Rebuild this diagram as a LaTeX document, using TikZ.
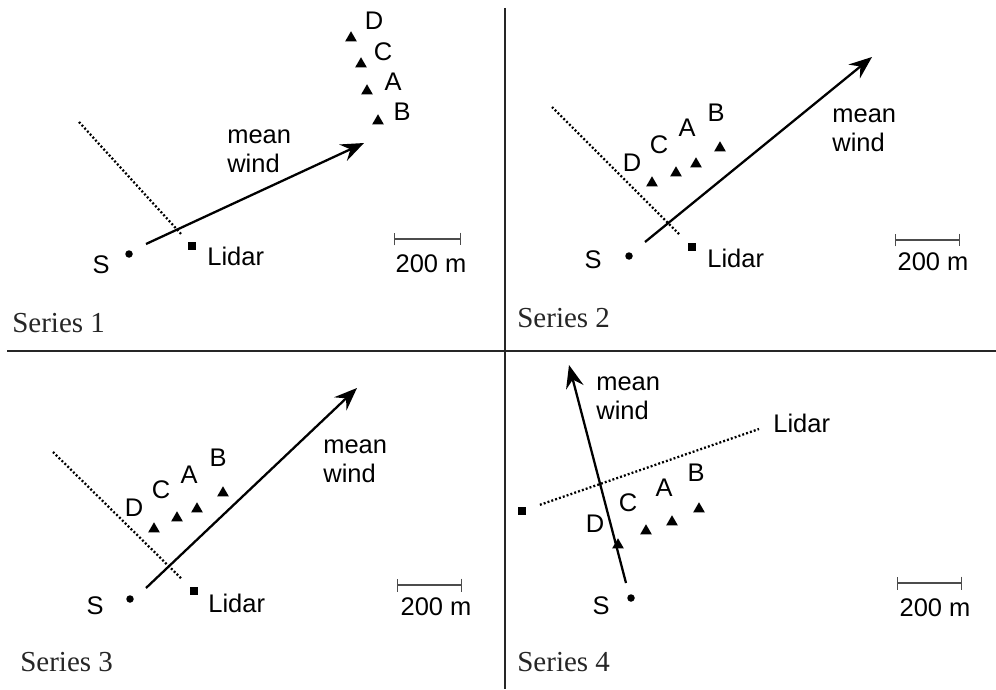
\documentclass[tikz,border=0pt]{standalone}
\usepackage{fontspec}
\setmainfont{Liberation Serif}
\newfontfamily\labelfont{Liberation Sans}
\usetikzlibrary{positioning,arrows.meta,shapes.geometric}

\begin{document}
\begin{tikzpicture}[
  x=0.02cm, y=-0.02cm,
  font=\labelfont\fontsize{14.5}{16.5}\selectfont,
  lbl/.style     = {inner sep=0pt},
  wlbl/.style    = {inner sep=0pt, anchor=west, align=left},
  tri/.style     = {regular polygon, regular polygon sides=3, fill,
                    inner sep=0pt, minimum size=0.27cm},
  srcpt/.style   = {circle, fill, inner sep=0pt, minimum size=0.15cm},
  lidar/.style   = {rectangle, fill, inner sep=0pt, minimum size=0.17cm},
  wind/.style    = {line width=1.3pt,
                    -{Stealth[length=4.6mm,width=3.6mm,inset=1.6mm]}},
  beam/.style    = {line width=1.3pt, dash pattern=on 1.1pt off 1.2pt},
  bar/.style     = {draw=black!70, line width=0.7pt,
                    {Bar[width=2.6mm]}-{Bar[width=2.6mm]}},
  series/.style  = {inner sep=0pt, anchor=west, text=black!85,
                    font=\rmfamily\fontsize{16.5}{19}\selectfont},
  divider/.style = {line width=1.1pt, black!85}
]
\useasboundingbox (0,0) rectangle (996,689);

% Panel frame
\draw[divider] (505,8) -- (505,689);
\draw[divider] (7,351) -- (996,351);

% Series 1
\node[srcpt] (s1)  at (129,254) {};
\node[lbl]   (s1l) at (101,265) {S};
\node[lidar] (li1) at (192,246) {};
\node[wlbl]  (li1l) at (207,256) {Lidar};
\node[tri] (d1) at (351,38) {};
\node[tri] (c1) at (361,64) {};
\node[tri] (a1) at (367,91) {};
\node[tri] (b1) at (378,121) {};
\node[lbl] (d1l) at (374,21) {D};
\node[lbl] (c1l) at (383,52) {C};
\node[lbl] (a1l) at (393,82) {A};
\node[lbl] (b1l) at (402,112) {B};
\node[wlbl] (mw1) at (227,151) {mean\\wind};
\coordinate (w1a) at (146,244);
\coordinate (w1b) at (364,143);
\draw[wind] (w1a) -- (w1b);
\coordinate (bm1) at (79,122);
\draw[beam, shorten >=5pt] (bm1) -- (li1);
\coordinate (sb1a) at (394,239);
\coordinate (sb1b) at (461,239);
\draw[bar] (sb1a) -- (sb1b);
\node[lbl] (sb1l) at (431,264) {200 m};
\node[series] (ser1) at (12,323) {Series 1};

% Series 2
\node[srcpt] (s2)  at (629,256) {};
\node[lbl]   (s2l) at (593,260) {S};
\node[lidar] (li2) at (692,247) {};
\node[wlbl]  (li2l) at (707,258) {Lidar};
\node[tri] (d2) at (652,183) {};
\node[tri] (c2) at (676,173) {};
\node[tri] (a2) at (696,164) {};
\node[tri] (b2) at (720,148) {};
\node[lbl] (d2l) at (632,163) {D};
\node[lbl] (c2l) at (659,145) {C};
\node[lbl] (a2l) at (687,128) {A};
\node[lbl] (b2l) at (716,113) {B};
\node[wlbl] (mw2) at (832,130) {mean\\wind};
\coordinate (w2a) at (645,242);
\coordinate (w2b) at (872,57);
\draw[wind] (w2a) -- (w2b);
\coordinate (bm2) at (552,107);
\draw[beam, shorten >=6pt] (bm2) -- (li2);
\coordinate (sb2a) at (895,240);
\coordinate (sb2b) at (960,240);
\draw[bar] (sb2a) -- (sb2b);
\node[lbl] (sb2l) at (933,262) {200 m};
\node[series] (ser2) at (517,318) {Series 2};

% Series 3
\node[srcpt] (s3)  at (130,599) {};
\node[lbl]   (s3l) at (95,606) {S};
\node[lidar] (li3) at (194,591) {};
\node[wlbl]  (li3l) at (208,603) {Lidar};
\node[tri] (d3) at (154,529) {};
\node[tri] (c3) at (177,518) {};
\node[tri] (a3) at (197,509) {};
\node[tri] (b3) at (223,493) {};
\node[lbl] (d3l) at (134,508) {D};
\node[lbl] (c3l) at (161,490) {C};
\node[lbl] (a3l) at (189,475) {A};
\node[lbl] (b3l) at (218,458) {B};
\node[wlbl] (mw3) at (323,461) {mean\\wind};
\coordinate (w3a) at (146,588);
\coordinate (w3b) at (357,388);
\draw[wind] (w3a) -- (w3b);
\coordinate (bm3) at (53,452);
\draw[beam, shorten >=6pt] (bm3) -- (li3);
\coordinate (sb3a) at (397,585);
\coordinate (sb3b) at (462,585);
\draw[bar] (sb3a) -- (sb3b);
\node[lbl] (sb3l) at (436,607) {200 m};
\node[series] (ser3) at (20,662) {Series 3};

% Series 4
\node[srcpt] (s4)  at (631,598) {};
\node[lbl]   (s4l) at (601,606) {S};
\node[lidar] (li4) at (522,511) {};
\coordinate (bm4) at (759,429);
\node[wlbl]  (li4l) at (773,423) {Lidar};
\node[tri] (d4) at (618,545) {};
\node[tri] (c4) at (646,531) {};
\node[tri] (a4) at (672,522) {};
\node[tri] (b4) at (699,509) {};
\node[lbl] (d4l) at (595,524) {D};
\node[lbl] (c4l) at (628,503) {C};
\node[lbl] (a4l) at (664,488) {A};
\node[lbl] (b4l) at (696,473) {B};
\node[wlbl] (mw4) at (596,398) {mean\\wind};
\coordinate (w4a) at (626,583);
\coordinate (w4b) at (569,365);
\draw[wind] (w4a) -- (w4b);
\draw[beam, shorten <=8pt] (li4) -- (bm4);
\coordinate (sb4a) at (897,583);
\coordinate (sb4b) at (962,583);
\draw[bar] (sb4a) -- (sb4b);
\node[lbl] (sb4l) at (935,608) {200 m};
\node[series] (ser4) at (517,662) {Series 4};
\end{tikzpicture}
\end{document}
